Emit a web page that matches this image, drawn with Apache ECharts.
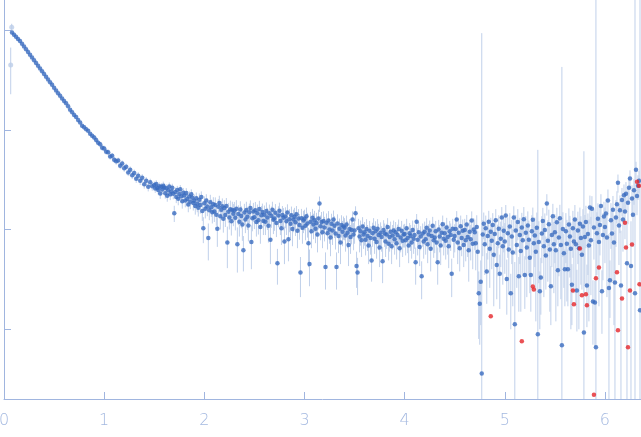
<!DOCTYPE html>
<html><head><meta charset="utf-8">
<script src="https://cdn.jsdelivr.net/npm/echarts@6/dist/echarts.min.js"></script>
<style>html,body{margin:0;padding:0;background:#fff}#c{width:641px;height:437px}</style>
</head><body><div id="c"></div>
<script>
const xTicks=[0,1,2,3,4,5,6];
const yTicks=[1,10,100,1000];

// low-q part of the curve
const qA=[0.08,0.10,0.12,0.14,0.16,0.18,0.20,0.22,0.24,0.26,0.28,0.30,0.32,0.34,0.36,0.38,0.40,0.42,0.44,0.46,
0.48,0.50,0.52,0.54,0.56,0.58,0.60,0.62,0.64,0.66,0.68,0.70,0.72,0.74,0.76,0.78,0.80,0.82,0.84,0.86,0.88,
0.90,0.92,0.94,0.96,0.98,1.00,1.02,1.04,1.06,1.08,1.10,1.12,1.14,1.16,1.18,1.20,1.22,1.24,1.26,1.28,
1.30,1.32,1.34,1.36,1.38,1.40,1.42,1.44,1.46,1.48];
const iA=[944,899,855,815,776,728,684,641,603,565,531,498,468,439,412,386,363,340,320,300,
282,264,248,233,219,206,194,184,172,159,150,141,134,125,118,110,106,101,97.5,91.4,87.1,
83.5,78.9,74.1,71.6,66.2,65.0,60.3,59.6,54.1,54.8,50.2,48.3,49.1,43.6,45.9,41.2,42.5,37.4,39.8,35.1,
36.9,32.2,34.7,30.8,33.1,28.4,30.9,26.8,29.7,27.1];
const eA=[8,8,7,7,6,6,6,5,5,5,5,4,4,4,4,4,3,3,3,3,3,3,2.5,2.4,2.3,2.2,2.1,2,1.9,1.8,1.8,1.7,1.6,1.6,1.5,1.5,1.4,1.4,1.3,1.3,1.3,
5.0,4.8,4.6,4.5,4.4,4.2,4.1,4.0,3.9,3.8,3.7,3.6,3.5,3.4,3.3,3.3,3.2,3.1,3.1,3.0,3.0,2.9,2.9,2.8,2.8,2.7,2.7,2.7,2.6,2.6];

// higher-q part
const qB=[
1.50,1.51,1.52,1.53,1.54,1.55,1.56,1.57,1.58,1.59,
1.60,1.61,1.62,1.63,1.64,1.65,1.66,1.67,1.68,1.69,
1.70,1.71,1.72,1.73,1.74,1.75,1.76,1.77,1.78,1.79,
1.80,1.81,1.82,1.83,1.84,1.85,1.86,1.87,1.88,1.89,
1.90,1.91,1.92,1.93,1.94,1.95,1.96,1.97,1.98,1.99,
2.00,2.01,2.02,2.03,2.04,2.05,2.06,2.07,2.08,2.09,
2.10,2.11,2.12,2.13,2.14,2.15,2.16,2.17,2.18,2.19,
2.20,2.21,2.22,2.23,2.24,2.25,2.26,2.27,2.28,2.29,
2.30,2.31,2.32,2.33,2.34,2.35,2.36,2.37,2.38,2.39,
2.40,2.41,2.42,2.43,2.44,2.45,2.46,2.47,2.48,2.49,
2.50,2.51,2.52,2.53,2.54,2.55,2.56,2.57,2.58,2.59,
2.60,2.61,2.62,2.63,2.64,2.65,2.66,2.67,2.68,2.69,
2.70,2.71,2.72,2.73,2.74,2.75,2.76,2.77,2.78,2.79,
2.80,2.81,2.82,2.83,2.84,2.85,2.86,2.87,2.88,2.89,
2.90,2.91,2.92,2.93,2.94,2.95,2.96,2.97,2.98,2.99,
3.00,3.01,3.02,3.03,3.04,3.05,3.06,3.07,3.08,3.09,
3.10,3.11,3.12,3.13,3.14,3.15,3.16,3.17,3.18,3.19,
3.20,3.21,3.22,3.23,3.24,3.25,3.26,3.27,3.28,3.29,
3.30,3.31,3.32,3.33,3.34,3.35,3.36,3.37,3.38,3.39,
3.40,3.41,3.42,3.43,3.44,3.45,3.46,3.47,3.48,3.49,
3.50,3.51,3.52,3.53,3.54,3.55,3.56,3.57,3.58,3.59,
3.60,3.61,3.62,3.63,3.64,3.65,3.66,3.67,3.68,3.69,
3.70,3.71,3.72,3.73,3.74,3.75,3.76,3.77,3.78,3.79,
3.80,3.81,3.82,3.83,3.84,3.85,3.86,3.87,3.88,3.89,
3.90,3.91,3.92,3.93,3.94,3.95,3.96,3.97,3.98,3.99,
4.00,4.01,4.02,4.03,4.04,4.05,4.06,4.07,4.08,4.09,
4.10,4.11,4.12,4.13,4.14,4.15,4.16,4.17,4.18,4.19,
4.20,4.21,4.22,4.23,4.24,4.25,4.26,4.27,4.28,4.29,
4.30,4.31,4.32,4.33,4.34,4.35,4.36,4.37,4.38,4.39,
4.40,4.41,4.42,4.43,4.44,4.45,4.46,4.47,4.48,4.49,
4.50,4.51,4.52,4.53,4.54,4.55,4.56,4.57,4.58,4.59,
4.60,4.61,4.62,4.63,4.64,4.65,4.66,4.67,4.68,4.69,
4.70,4.71,4.72,4.73,4.74,4.75,4.76,4.77,4.78,4.79,
4.80,4.81,4.82,4.83,4.84,4.85,4.86,4.87,4.88,4.89,
4.90,4.91,4.92,4.93,4.94,4.95,4.96,4.97,4.98,4.99,
5.00,5.01,5.02,5.03,5.04,5.05,5.06,5.07,5.08,5.09,
5.10,5.11,5.12,5.13,5.14,5.15,5.16,5.17,5.18,5.19,
5.20,5.21,5.22,5.23,5.24,5.25,5.26,5.27,5.28,5.29,
5.30,5.31,5.32,5.33,5.34,5.35,5.36,5.37,5.38,5.39,
5.40,5.41,5.42,5.43,5.44,5.45,5.46,5.47,5.48,5.49,
5.50,5.51,5.52,5.53,5.54,5.55,5.56,5.57,5.58,5.59,
5.60,5.61,5.62,5.63,5.64,5.65,5.66,5.67,5.68,5.69,
5.70,5.71,5.72,5.73,5.74,5.75,5.76,5.77,5.78,5.79,
5.80,5.81,5.82,5.83,5.84,5.85,5.86,5.87,5.88,5.89,
5.90,5.91,5.92,5.93,5.94,5.95,5.96,5.97,5.98,5.99,
6.00,6.01,6.02,6.03,6.04,6.05,6.06,6.07,6.08,6.09,
6.10,6.11,6.12,6.13,6.14,6.15,6.16,6.17,6.18,6.19,
6.20,6.21,6.22,6.23,6.24,6.25,6.26,6.27,6.28,6.29,
6.30,6.31,6.32,6.33,6.34,6.35];
const iB=[
27.9,25.8,28.6,26.1,24.9,27.2,23.0,26.8,25.2,27.5,
26.4,23.1,25.9,21.8,24.7,27.0,22.6,24.0,26.2,22.9,
14.6,23.8,21.2,24.9,20.4,22.7,25.3,21.5,19.2,23.4,
21.9,19.6,23.3,20.2,17.8,21.4,19.0,22.6,20.8,18.5,
19.4,17.2,20.6,18.1,16.5,19.9,17.6,21.2,15.3,10.3,
18.3,16.2,19.5,17.0,8.2,15.6,18.8,16.7,14.9,17.9,
15.2,17.6,14.1,10.2,16.9,18.4,13.6,15.8,17.1,12.8,
16.4,14.0,17.2,7.4,15.1,13.2,16.0,12.1,15.7,14.4,
15.5,13.1,16.2,7.1,14.3,12.0,15.9,13.7,11.2,6.2,
14.8,12.6,15.7,13.4,11.0,14.9,16.4,7.5,13.0,15.2,
13.3,15.6,11.9,14.6,12.4,16.1,10.6,13.9,15.0,12.2,
14.1,12.0,15.3,13.2,10.9,14.6,7.9,13.7,15.8,12.5,
12.9,14.7,11.6,4.6,13.8,15.4,12.2,10.3,14.0,13.1,
7.6,13.5,12.1,14.8,8.0,12.7,11.4,13.9,10.1,12.6,
13.4,11.8,14.2,9.7,12.9,11.1,3.7,13.0,10.4,12.3,
12.8,10.9,13.6,11.5,7.3,4.5,12.0,9.6,13.1,11.2,
12.4,10.2,11.6,8.9,12.9,18.2,10.8,11.9,9.4,12.2,
10.5,4.2,11.7,9.2,12.3,10.0,8.3,11.4,9.8,12.6,
10.9,9.1,4.2,11.5,8.6,10.2,7.4,11.1,9.5,10.7,
10.4,8.7,11.2,9.3,7.0,10.1,8.4,9.9,12.6,8.9,
9.8,14.6,4.3,3.7,10.3,8.5,9.6,7.8,10.7,8.9,
9.4,7.9,10.1,8.6,6.9,9.7,8.2,4.9,9.2,10.4,
8.1,9.6,7.5,10.2,8.8,6.6,9.3,8.4,4.8,9.9,
9.1,7.6,8.9,10.6,7.2,8.4,9.5,6.8,8.7,9.8,
8.0,9.4,7.3,8.8,10.1,6.5,8.3,9.7,7.7,8.9,
9.0,7.8,10.3,8.2,6.9,9.2,8.6,7.4,9.9,8.1,
8.8,4.7,12.0,7.9,9.4,6.7,8.5,3.4,9.1,7.6,
9.5,8.0,10.4,7.1,8.9,9.8,6.4,8.6,10.9,7.8,
8.3,9.6,7.4,4.7,10.0,8.5,6.9,9.3,11.3,8.1,
9.2,7.7,10.5,8.4,6.8,9.6,8.8,3.6,10.2,7.9,
8.6,10.1,12.6,7.4,9.3,6.5,10.8,8.2,9.7,7.0,
9.9,7.8,11.2,8.4,6.2,9.5,8.0,12.3,7.2,10.0,
9.4,7.3,10.6,6.0,2.3,1.8,3.0,0.36,8.9,11.4,
7.1,10.3,3.8,8.6,12.0,6.4,9.5,7.7,11.1,5.6,
9.0,12.4,4.4,7.3,10.2,3.6,8.1,13.2,6.8,9.7,
7.6,13.8,3.2,9.2,6.3,10.7,2.3,8.5,5.9,13.2,
1.12,9.8,7.0,11.9,3.4,8.8,6.1,10.5,7.8,12.7,
3.5,9.3,6.6,11.0,7.9,5.2,3.5,9.6,12.5,7.3,
8.7,6.0,10.4,0.89,7.5,2.4,3.3,9.1,12.2,6.8,
9.9,5.5,18.2,7.7,11.3,6.3,2.7,8.8,13.6,7.1,
9.4,6.2,11.8,3.9,8.3,13.0,7.0,0.69,10.1,5.8,
4.0,9.6,7.2,4.0,11.2,8.5,6.4,2.8,10.3,7.6,
12.6,7.1,2.45,9.8,6.5,11.4,8.2,5.6,10.7,0.93,
8.4,11.9,2.75,9.0,6.9,16.6,7.8,16.2,1.9,10.5,
1.86,0.66,9.2,12.8,7.5,11.1,17.2,2.4,8.8,13.5,
10.6,14.5,8.3,19.5,2.6,3.1,12.4,9.1,15.8,7.4,
2.95,13.2,17.9,29.5,11.0,15.6,2.75,19.8,12.6,22.1,
15.2,22.9,4.6,18.6,26.3,32.4,4.3,20.5,14.1,24.8,
2.3,39.8,21.7,27.4,30.9,1.55];
const eB=[
2.4,2.5,2.6,2.4,2.6,2.5,2.7,2.5,2.6,2.7,
2.6,2.7,2.5,2.8,2.7,2.6,2.9,2.7,2.6,2.8,
2.7,2.6,2.8,2.5,2.9,2.7,2.6,2.8,3.0,2.7,
2.8,2.9,2.7,3.0,2.9,2.8,3.0,2.7,2.9,3.0,
3.0,3.1,2.9,3.2,3.0,3.1,3.2,2.9,3.1,3.0,
3.2,3.3,3.1,3.4,3.3,3.2,3.5,3.3,3.4,3.2,
3.3,3.4,3.2,3.5,3.3,3.4,3.6,3.3,3.4,3.5,
3.3,3.4,3.5,3.3,3.4,3.2,3.5,3.4,3.3,3.6,
3.4,3.3,3.5,3.4,3.2,3.5,3.3,3.4,3.5,2.4,
3.3,3.4,3.3,3.5,3.4,3.3,3.2,3.5,3.4,3.3,
3.2,3.3,3.4,3.2,3.5,3.3,3.4,3.3,3.2,3.4,
3.3,3.2,3.4,3.3,3.5,3.2,3.4,3.3,3.2,3.5,
3.2,3.3,3.2,1.8,3.3,3.2,3.4,3.3,3.2,3.3,
3.1,3.2,3.3,3.1,3.2,3.3,3.2,3.1,3.3,3.2,
3.1,3.2,3.0,3.2,3.1,3.2,1.6,3.1,3.2,3.1,
3.0,3.1,3.0,3.2,3.1,1.8,3.0,3.1,3.0,3.2,
3.0,2.9,3.1,3.0,2.9,3.2,3.0,3.1,2.9,3.0,
2.9,1.7,2.8,2.9,3.0,2.8,2.9,3.0,2.8,2.9,
2.7,2.8,1.7,2.7,2.8,2.7,2.9,2.8,2.7,2.8,
2.6,2.7,2.6,2.8,2.7,2.6,2.7,2.8,2.6,2.7,
2.6,2.5,1.7,1.5,2.5,2.6,2.7,2.5,2.6,2.5,
2.5,2.4,2.6,2.5,2.4,2.5,2.6,1.9,2.5,2.6,
2.4,2.5,2.4,2.5,2.6,2.4,2.5,2.4,1.9,2.5,
2.4,2.3,2.5,2.4,2.3,2.4,2.5,2.3,2.4,2.5,
2.4,2.5,2.3,2.4,2.5,2.3,2.4,2.5,2.4,2.3,
2.4,2.3,2.5,2.4,2.3,2.4,2.5,2.3,2.4,2.4,
2.4,1.9,2.3,2.4,2.5,2.4,2.3,1.4,2.4,2.5,
2.5,2.4,2.6,2.5,2.4,2.5,2.6,2.4,2.5,2.6,
2.5,2.6,2.5,1.9,2.5,2.6,2.5,2.6,2.5,2.6,
2.6,2.7,2.6,2.8,2.7,2.6,2.7,1.5,2.6,2.7,
2.7,2.8,2.7,2.9,2.8,2.7,3.0,2.8,2.9,2.8,
2.9,3.0,2.8,3.1,3.2,3.0,3.1,2.9,3.2,3.0,
3.2,3.4,3.3,3.6,1.5,1.1,1.9,930,3.5,3.4,
3.6,3.5,2.0,3.6,3.4,3.8,3.6,3.7,3.5,3.9,
3.8,3.6,2.4,3.9,3.7,2.0,3.9,3.6,4.0,3.8,
4.0,3.8,1.8,4.0,4.1,3.9,1.3,4.0,4.2,3.9,
3.6,4.2,4.4,4.1,1.9,4.3,4.6,4.2,4.4,4.1,
1.9,4.3,4.5,4.2,4.4,2.9,2.0,4.3,4.1,4.5,
4.5,4.8,4.4,62,4.6,1.4,1.9,4.5,4.3,4.7,
4.6,3.0,4.4,4.7,4.5,4.8,1.6,4.6,4.5,4.8,
4.8,5.0,4.7,2.2,4.9,4.7,5.0,426,4.8,3.2,
2.3,5.0,5.3,2.3,5.1,5.2,5.4,1.7,5.1,5.3,
5.0,5.4,1.5,5.3,5.5,5.2,5.4,3.1,5.3,60,
5.6,5.4,1.7,5.5,5.7,5.3,5.6,5.4,1.2,5.5,
1.2,2500,5.7,5.5,5.8,5.6,5.4,1.5,5.7,5.5,
6.0,5.8,6.2,5.7,6.4,1.8,6.0,6.2,5.9,6.3,
6.8,6.5,6.3,6.1,6.6,6.4,7.0,6.3,6.6,6.2,
7.2,7.0,7.6,7.3,7.0,6.8,7.8,7.2,7.4,7.1,
2500,8.0,7.8,7.6,7.9,2500];

// points flagged as outliers (red)
const qOut=[4.86,5.17,5.28,5.29,5.68,5.69,5.75,5.77,5.81,5.82,5.89,5.91,5.94,6.12,6.13,6.17,6.20,6.21,6.23,6.25,6.27,6.32,6.34,6.345];
const iOut=[1.35,0.76,2.69,2.51,2.45,1.78,6.46,2.19,2.24,1.74,0.22,3.24,4.17,3.72,0.98,2.04,11.7,6.61,0.66,2.45,7.08,30.2,27.5,2.82];

// excluded lowest-q points (pale)
const qExcl=[0.067,0.077];
const iExcl=[447,1065];
const eExcl=[220,90];

const Y_MIN=0.2, Y_MAX=2000;
function pts(q,v){return q.map((x,k)=>[x,v[k]]);}
function bars(q,v,e){return q.map((x,k)=>{const d=e[k]||0;return [x,Math.min(v[k]+d,Y_MAX),Math.max(v[k]-d,Y_MIN)];});}

const axisCol='#a0b5df';
const barRender=function(color){return function(params,api){
  const a=api.coord([api.value(0),api.value(1)]);
  const b=api.coord([api.value(0),api.value(2)]);
  return {type:'line',shape:{x1:a[0],y1:a[1],x2:b[0],y2:b[1]},style:{stroke:color,lineWidth:1}};
};};

const chart=echarts.init(document.getElementById('c'),null,{renderer:'canvas'});
chart.setOption({
  animation:false,
  backgroundColor:'#ffffff',
  grid:{left:4,right:0,top:0,bottom:38,containLabel:false,outerBoundsMode:'none'},
  xAxis:{type:'value',min:0,max:6.36,interval:1,
    axisLine:{show:true,onZero:false,lineStyle:{color:axisCol,width:1}},
    axisTick:{show:true,inside:true,length:7,customValues:xTicks,lineStyle:{color:axisCol}},
    axisLabel:{show:true,customValues:xTicks,color:'#a3b8e0',fontSize:16,margin:14,fontFamily:'DejaVu Sans',fontWeight:200},
    splitLine:{show:false}},
  yAxis:{type:'log',logBase:10,min:Y_MIN,max:Y_MAX,
    axisLine:{show:true,onZero:false,lineStyle:{color:axisCol,width:1}},
    axisTick:{show:true,inside:true,length:7,customValues:yTicks,lineStyle:{color:axisCol}},
    axisLabel:{show:false},
    splitLine:{show:false}},
  series:[
    {type:'custom',name:'errA',renderItem:barRender('#c0d0ea'),data:bars(qA,iA,eA),encode:{x:0,y:[1,2]},z:1,silent:true},
    {type:'custom',name:'errB',renderItem:barRender('#c0d0ea'),data:bars(qB,iB,eB),encode:{x:0,y:[1,2]},z:1,silent:true},
    {type:'custom',name:'errX',renderItem:barRender('#c0d0ea'),data:bars(qExcl,iExcl,eExcl),encode:{x:0,y:[1,2]},z:1,silent:true},
    {type:'scatter',name:'excl',data:pts(qExcl,iExcl),symbolSize:5,itemStyle:{color:'#bccde9'},z:2},
    {type:'scatter',name:'dataA',data:pts(qA,iA),symbolSize:4.5,itemStyle:{color:'#3a6bbf'},z:3},
    {type:'scatter',name:'dataB',data:pts(qB,iB),symbolSize:4.5,itemStyle:{color:'#3a6bbf'},z:3},
    {type:'scatter',name:'outliers',data:pts(qOut,iOut),symbolSize:4.5,itemStyle:{color:'#e5262b'},z:4}
  ]
});
</script></body></html>
